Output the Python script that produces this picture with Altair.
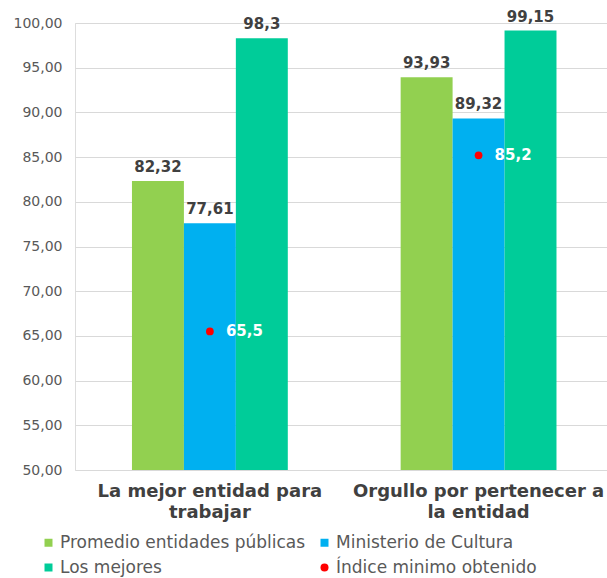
import altair as alt
import pandas as pd

categorias = ["La mejor entidad para trabajar", "Orgullo por pertenecer a la entidad"]
lineas_cat = [["La mejor entidad para", "trabajar"], ["Orgullo por pertenecer a", "la entidad"]]
series = ["Promedio entidades públicas", "Ministerio de Cultura", "Los mejores"]
promedio = [82.32, 93.93]
ministerio = [77.61, 89.32]
mejores = [98.3, 99.15]
serie_minimo = "Índice minimo obtenido"
minimo = [65.5, 85.2]
colores = ["#92d050", "#00b0f0", "#00cc99", "#ff0000"]
eje_min, eje_max = 50, 100

rows = []
for s, vals in zip(series, [promedio, ministerio, mejores]):
    for c, v in zip(categorias, vals):
        rows.append({"cat": c, "serie": s, "valor": v})
bars_df = pd.DataFrame(rows)
dots_df = pd.DataFrame({"cat": categorias, "serie": [serie_minimo] * 2,
                        "pos": [series[1]] * 2, "valor": minimo})

FONT = "DejaVu Sans"
dominio = series + [serie_minimo]

label_expr = " : ".join(
    [f"datum.value == '{c}' ? {l!r}" for c, l in zip(categorias, lineas_cat)]
) + " : datum.label"

x = alt.X("cat:N", sort=categorias, title=None,
          scale=alt.Scale(paddingInner=0.42, paddingOuter=0.2, align=0.53),
          axis=alt.Axis(labelExpr=label_expr, labelAngle=0, labelFont=FONT,
                        labelFontSize=18, labelFontWeight="bold", labelColor="#404040",
                        labelLineHeight=21, labelPadding=12, labelLimit=400,
                        domain=False, ticks=False))
y = alt.Y("valor:Q", title=None,
          scale=alt.Scale(domain=[eje_min, eje_max], nice=False, zero=False),
          axis=alt.Axis(values=list(range(eje_min, eje_max + 1, 5)),
                        labelExpr="replace(format(datum.value, '.2f'), '.', ',')",
                        labelFont=FONT, labelFontSize=14, labelColor="#595959",
                        labelPadding=13, ticks=False, domain=False,
                        gridColor="#d9d9d9", gridWidth=1))
color = alt.Color("serie:N", title=None,
                  scale=alt.Scale(domain=dominio, range=colores),
                  legend=alt.Legend(orient="none", direction="horizontal",
                                    legendX=-35, legendY=511, columns=2,
                                    labelFont=FONT, labelFontSize=17, labelColor="#595959",
                                    labelLimit=400,
                                    symbolSize=64, labelOffset=3, columnPadding=10,
                                    rowPadding=7, symbolStrokeWidth=0))
shape = alt.Shape("serie:N", title=None,
                  scale=alt.Scale(domain=dominio, range=["square", "square", "square", "circle"]))
xoff_scale = alt.Scale(domain=series, paddingInner=0, paddingOuter=0)

bars = alt.Chart(bars_df).mark_bar().encode(
    x=x, y=y, y2=alt.datum(eje_min), color=color,
    xOffset=alt.XOffset("serie:N", sort=series, scale=xoff_scale),
)
bar_labels = alt.Chart(bars_df).transform_calculate(
    lbl="replace(toString(datum.valor), '.', ',')"
).mark_text(font=FONT, fontSize=15, fontWeight="bold", color="#404040",
            baseline="alphabetic", dy=-9).encode(
    x=x, y=y, text="lbl:N",
    xOffset=alt.XOffset("serie:N", sort=series, scale=xoff_scale),
)
dots = alt.Chart(dots_df).mark_point(filled=True, size=60, opacity=1, strokeWidth=0).encode(
    x=x, y=y, color=color, shape=shape,
    xOffset=alt.XOffset("pos:N", scale=xoff_scale),
)
dot_labels = alt.Chart(dots_df).transform_calculate(
    lbl="replace(toString(datum.valor), '.', ',')"
).mark_text(font=FONT, fontSize=15, fontWeight="bold", color="white",
            align="left", baseline="middle", dx=16).encode(
    x=x, y=y, text="lbl:N",
    xOffset=alt.XOffset("pos:N", scale=xoff_scale),
)

chart = alt.layer(bars, bar_labels, dots, dot_labels).properties(
    width=532, height=447,
    autosize=alt.AutoSizeParams(type="none"),
    padding={"left": 75, "top": 23, "right": 0, "bottom": 108},
).configure_view(stroke=None).configure(background="white")

chart.save("out.html", embed_options={"renderer": "svg", "actions": False})
